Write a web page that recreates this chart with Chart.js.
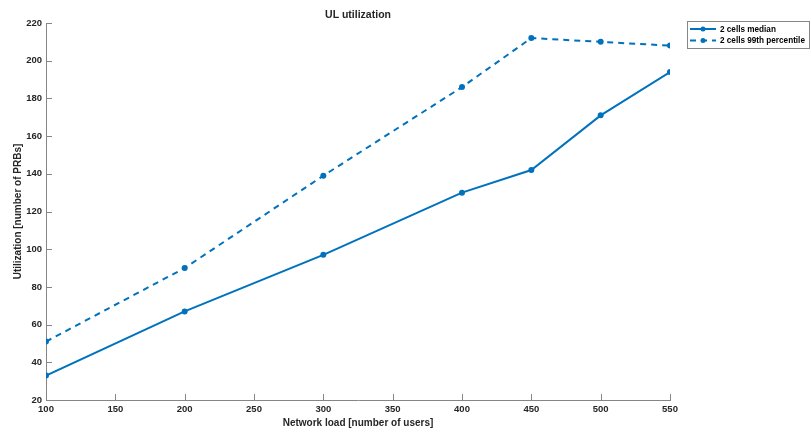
<!DOCTYPE html>
<html>
<head>
<meta charset="utf-8">
<script src="https://cdn.jsdelivr.net/npm/chart.js@4.4.1/dist/chart.umd.min.js"></script>
<style>
  html, body { margin: 0; padding: 0; background: #fff; }
  #wrap { width: 811px; height: 432px; }
</style>
</head>
<body>
<div id="wrap"><canvas id="myChart" width="811" height="432"></canvas></div>
<script>
const loads = [100, 200, 300, 400, 450, 500, 550]
const medianUtil = [33, 67, 97, 130, 142, 171, 194]
const p99Util = [51, 90, 139, 186, 212, 210, 208]
const xTicks = [100, 150, 200, 250, 300, 350, 400, 450, 500, 550]
const yTicks = [20, 40, 60, 80, 100, 120, 140, 160, 180, 200, 220]

const blue = '#0072BD'
const axisGray = '#868686'
const textCol = '#262626'
const fontFam = '"Liberation Sans", Arial, Helvetica, sans-serif'

// matlab style: ticks pointing inward, titles, boxed legend
const matlabBits = {
  id: 'matlabBits',
  afterDraw(chart) {
    const ctx = chart.ctx
    const xs = chart.scales.x, ys = chart.scales.y
    const area = chart.chartArea
    ctx.save()
    ctx.strokeStyle = axisGray
    ctx.lineWidth = 1
    xTicks.forEach(v => {
      const px = Math.round(xs.getPixelForValue(v)) + 0.5
      ctx.beginPath()
      ctx.moveTo(px, area.bottom)
      ctx.lineTo(px, area.bottom - 6)
      ctx.stroke()
    })
    yTicks.forEach(v => {
      const py = Math.round(ys.getPixelForValue(v)) + 0.5
      ctx.beginPath()
      ctx.moveTo(area.left, py)
      ctx.lineTo(area.left + 6, py)
      ctx.stroke()
    })

    // titles
    ctx.fillStyle = textCol
    ctx.textAlign = 'center'
    ctx.textBaseline = 'middle'
    ctx.font = 'bold 10.5px ' + fontFam
    ctx.fillText('UL utilization', (area.left + area.right) / 2, 15)
    ctx.font = 'bold 10px ' + fontFam
    ctx.fillText('Network load [number of users]', (area.left + area.right) / 2, 423)
    ctx.save()
    ctx.translate(18, (area.top + area.bottom) / 2)
    ctx.rotate(-Math.PI / 2)
    ctx.fillText('Utilization [number of PRBs]', 0, 0)
    ctx.restore()

    // legend
    const lx = 687, ly = 21, lw = 122, lh = 27
    ctx.fillStyle = '#fff'
    ctx.fillRect(lx, ly, lw, lh)
    ctx.strokeStyle = axisGray
    ctx.strokeRect(lx + 0.5, ly + 0.5, lw, lh)
    ctx.font = 'bold 10px ' + fontFam
    const longest = ctx.measureText(chart.data.datasets[1].label).width
    const fs = Math.min(10, 10 * 85 / longest)
    ctx.font = 'bold ' + fs.toFixed(2) + 'px ' + fontFam
    ctx.textAlign = 'left'
    chart.data.datasets.forEach((ds, i) => {
      const yy = ly + 8 + i * 11.5
      ctx.strokeStyle = ds.borderColor
      ctx.lineWidth = ds.borderWidth
      ctx.setLineDash(ds.borderDash || [])
      ctx.beginPath()
      ctx.moveTo(lx + 3, yy)
      ctx.lineTo(lx + 29, yy)
      ctx.stroke()
      ctx.setLineDash([])
      ctx.fillStyle = ds.borderColor
      ctx.beginPath()
      ctx.arc(lx + 16, yy, 2.5, 0, Math.PI * 2)
      ctx.fill()
      ctx.fillStyle = '#000'
      ctx.fillText(ds.label, lx + 33, yy + 0.5)
    })
    ctx.restore()
  }
}

let canvas = document.getElementById('myChart')
let ctx = canvas.getContext('2d')
new Chart(ctx, {
  type: 'line',
  data: {
    datasets: [{
      label: '2 cells median',
      data: loads.map((x, i) => ({x: x, y: medianUtil[i]})),
      borderColor: blue,
      backgroundColor: blue,
      pointBackgroundColor: blue,
      pointBorderWidth: 0,
      pointRadius: 3,
      borderWidth: 2,
      tension: 0
    }, {
      label: '2 cells 99th percentile',
      data: loads.map((x, i) => ({x: x, y: p99Util[i]})),
      borderColor: blue,
      backgroundColor: blue,
      pointBackgroundColor: blue,
      pointBorderWidth: 0,
      pointRadius: 3,
      borderWidth: 2,
      borderDash: [6, 5],
      tension: 0
    }]
  },
  options: {
    responsive: false,
    animation: false,
    layout: { padding: { top: 23, right: 141, left: 0, bottom: 0 } },
    plugins: {
      legend: { display: false },
      tooltip: { enabled: false }
    },
    scales: {
      x: {
        type: 'linear',
        min: 100,
        max: 550,
        afterBuildTicks: s => { s.ticks = xTicks.map(v => ({value: v})) },
        afterFit: s => { s.height = 32 },
        grid: { display: false, drawTicks: false },
        border: { display: true, color: axisGray, width: 1 },
        ticks: {
          color: textCol,
          font: { family: fontFam, size: 9.5, weight: 'bold' },
          padding: 4,
          maxRotation: 0
        }
      },
      y: {
        min: 20,
        max: 220,
        afterBuildTicks: s => { s.ticks = yTicks.map(v => ({value: v})) },
        afterFit: s => { s.width = 46 },
        grid: { display: false, drawTicks: false },
        border: { display: true, color: axisGray, width: 1 },
        ticks: {
          color: textCol,
          font: { family: fontFam, size: 9.5, weight: 'bold' },
          padding: 4
        }
      }
    }
  },
  plugins: [matlabBits]
})
</script>
</body>
</html>
